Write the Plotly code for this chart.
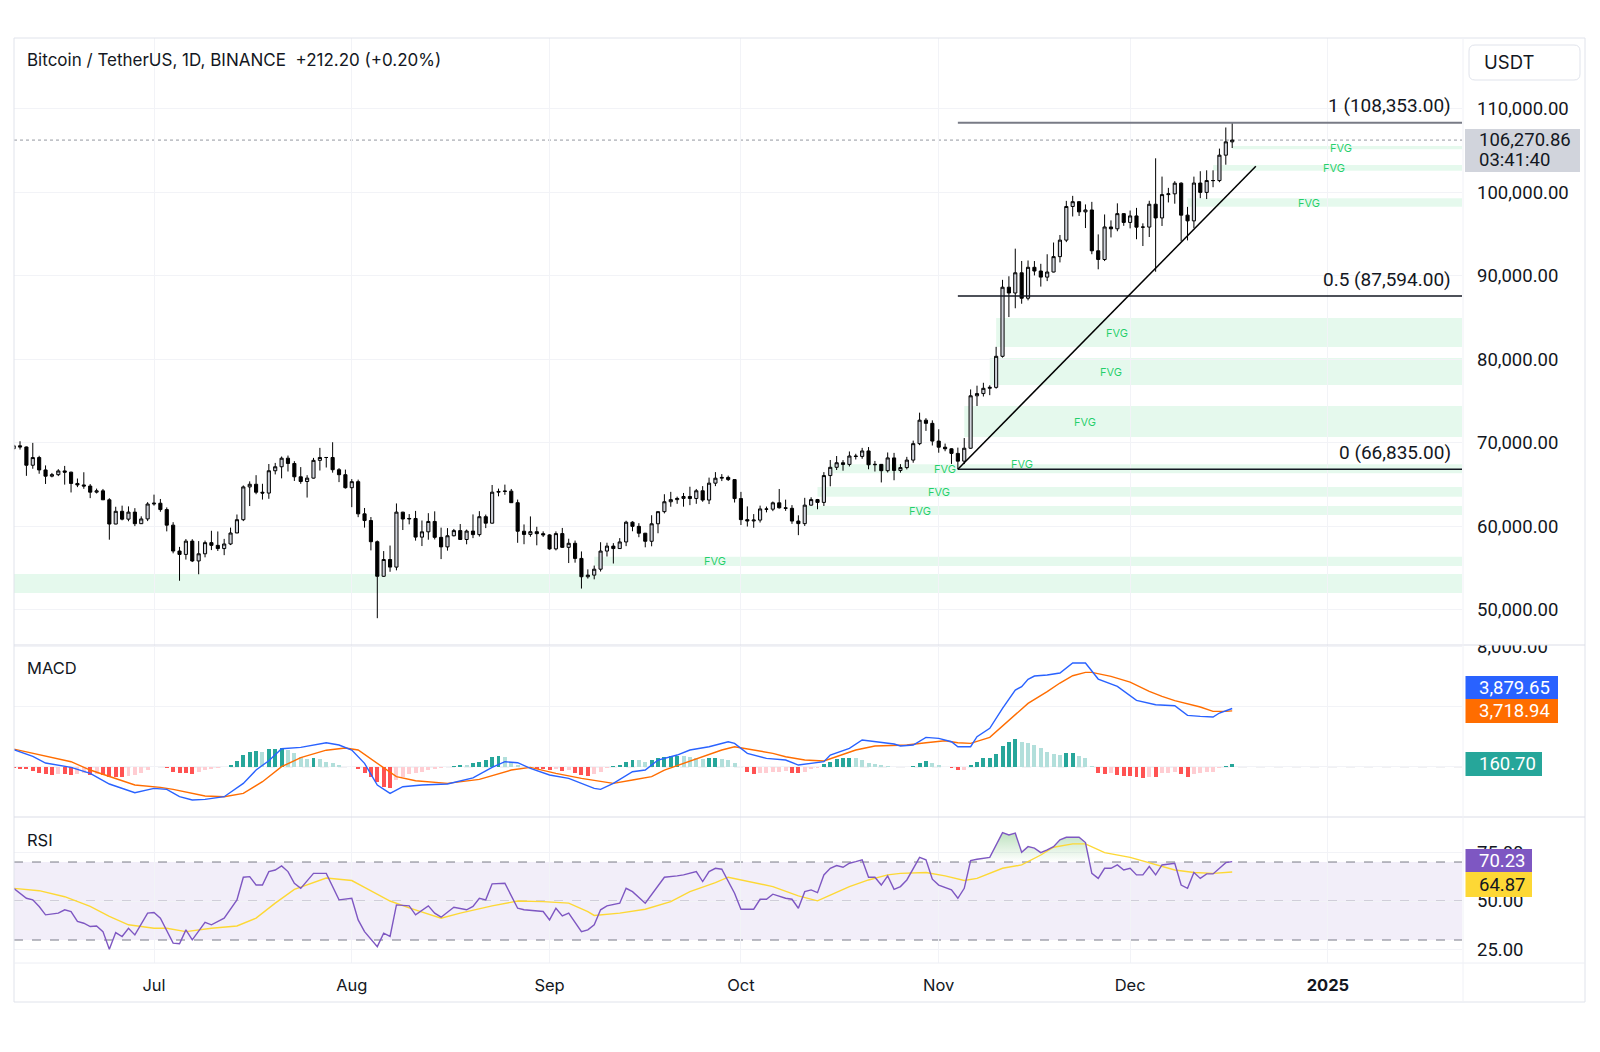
import pandas as pd
import plotly.graph_objects as go

W, H = 1600, 1052
def px(x): return x / W
def py(y): return 1 - y / H

# ---------------- DATA ----------------
dates = pd.date_range("2024-06-09", periods=192, freq="D")

open_ = [
 69310, 69648, 69508, 67321, 68243, 66757, 66011, 66191, 66639, 66491, 65140, 64960, 64828, 64096, 64252, 63180, 60277, 61804, 60864, 61706, 60320, 60887,
 62678, 62772, 62011, 60145, 57043, 56639, 58231, 55857, 56714, 58050, 57725, 57339, 57889, 59204, 60797, 64724, 65043, 64087, 63987, 66661, 67139, 68165, 67533, 65936, 65372, 65777, 67907, 68250, 68249, 66784, 66189,
 64629, 65354, 61498, 60697, 58161, 54018, 56030, 55120, 61703, 60880, 60945, 58712, 59346, 60587, 58683, 57541, 58874, 59491, 58427, 59438, 59013, 61157, 60381, 64094, 64178, 64220, 62834, 59416, 59035, 59360, 59124,
 58974, 57302, 59132, 57487, 57971, 56160, 53962, 54160, 54869, 57042, 57635, 57339, 58132, 60498, 60000, 59182, 58213, 60309, 61759, 62947, 63201, 63348, 63578, 63339, 64262, 63152, 65173, 65769, 65858, 65602,
 63327, 60805, 60649, 60752, 62086, 62058, 62819, 62224, 62160, 60636, 60326, 62540, 63206, 62870, 66083, 67074, 67620, 67421, 68428, 68379, 69031, 67377, 67426, 66668, 68198, 66698, 67041, 67938, 69907, 72720, 72339,
 70215, 69482, 69289, 68741, 67811, 69359, 75640, 75904, 76538, 76649, 80370, 88647, 87952, 90375, 87325, 91032, 90586, 89855, 90465, 92310, 94287, 98317, 98892, 97672, 97900, 93010, 91965, 95863, 95643, 97460,
 96407, 97185, 95840, 95849, 98587, 96945, 99740, 99831, 101109, 97276, 96593, 101125, 100004, 101424, 101420, 104463, 106059]

high = [
 69850, 70195, 69560, 69999, 68450, 67300, 66400, 66850, 67240, 66550, 65730, 66480, 65065, 64520, 64480, 63370, 62350, 62480, 62390, 62180, 61200, 62900,
 63800, 63280, 62270, 60500, 57540, 58480, 58460, 58236, 58296, 59470, 59390, 58500, 59850, 61420, 64900, 65390, 66130, 65100, 67470, 67600, 68366, 68480, 67810, 67100, 66130, 68200, 69400, 68300, 70079, 66980, 66800,
 65660, 65600, 62200, 61117, 58305, 57040, 57700, 62745, 61744, 61470, 61850, 60700, 61580, 61800, 59848, 59790, 59690, 60280, 59618, 61430, 61820, 61410, 64955, 64520, 65000, 64480, 63210, 60230, 61190, 59950, 59400,
 59060, 59400, 59810, 58520, 58300, 56995, 54850, 55300, 58100, 58040, 57990, 58588, 60670, 60610, 60380, 59210, 61330, 61786, 63850, 64133, 63560, 64000, 64745, 64480, 64817, 65840, 66498, 66260, 66076, 65619,
 64130, 62390, 61468, 62485, 62370, 62975, 64478, 63200, 62543, 61321, 63417, 63480, 63285, 66500, 67950, 68424, 67939, 68969, 68693, 69400, 69500, 67836, 67470, 68850, 68800, 67454, 68324, 70270, 73620, 72961, 72700,
 71632, 69914, 69361, 69433, 70577, 76400, 76849, 77199, 76900, 81500, 89530, 89956, 93265, 91790, 91850, 91779, 91449, 92594, 94002, 94902, 98989, 99588, 98767, 98564, 98871, 94973, 97361, 96650, 98693, 97499,
 97836, 98150, 96297, 99000, 104088, 101898, 100548, 101350, 101215, 98270, 101895, 102540, 102650, 102650, 105250, 107780, 108353]

low = [
 69130, 69200, 66051, 66900, 66300, 65078, 65870, 66020, 65000, 64060, 64700, 64500, 63380, 63940, 63180, 58402, 60260, 60720, 60610, 60030, 60380, 60630,
 62480, 61750, 59400, 56770, 53485, 56020, 55724, 54260, 56290, 57158, 57050, 56550, 57756, 59261, 60630, 62430, 63850, 63210, 63300, 66220, 65750, 66570, 65440, 65100, 63450, 65730, 66690, 67050, 66430, 65300, 64520,
 62300, 61100, 59850, 57122, 49000, 53950, 54560, 54730, 59560, 60240, 58290, 57640, 58400, 58430, 56078, 57090, 58800, 58420, 57850, 58590, 58780, 59790, 60340, 63600, 63780, 62800, 58030, 57860, 58760, 57730, 58730,
 57200, 57120, 57415, 55606, 55650, 52550, 53745, 53653, 54590, 56390, 55550, 57320, 57630, 59410, 58700, 57490, 57610, 59174, 61555, 62350, 62700, 62357, 62538, 62700, 62947, 62670, 64819, 65422, 65432, 62856,
 60164, 59980, 59828, 60459, 61675, 61824, 62128, 61860, 60300, 58946, 60050, 62487, 62050, 62442, 64800, 66750, 66666, 67177, 68010, 68100, 66840, 66571, 65260, 66454, 65523, 66435, 66824, 67620, 69730, 71436, 69685,
 68820, 69000, 67478, 66835, 67458, 69298, 74416, 75555, 75714, 76492, 80216, 85072, 86127, 86668, 87073, 90056, 88722, 89376, 90426, 91619, 94049, 97122, 97182, 95734, 92600, 90791, 91778, 94610, 95350, 96000,
 95693, 94395, 93578, 94660, 90500, 95981, 98800, 98650, 94150, 94256, 95734, 99311, 99206, 100626, 101227, 103322, 105321]

close = [
 69648, 69508, 67321, 68243, 66757, 66011, 66191, 66639, 66491, 65140, 64960, 64828, 64096, 64252, 63180, 60277, 61804, 60864, 61706, 60320, 60887, 62678,
 62772, 62011, 60145, 57043, 56639, 58231, 55857, 56714, 58050, 57725, 57339, 57889, 59204, 60797, 64724, 65043, 64087, 63987, 66661, 67139, 68165, 67533, 65936, 65372, 65777, 67907, 68250, 68249, 66784, 66189, 64629,
 65354, 61498, 60697, 58161, 54018, 56030, 55120, 61703, 60880, 60945, 58712, 59346, 60587, 58683, 57541, 58874, 59491, 58427, 59438, 59013, 61157, 60381, 64094, 64178, 64220, 62834, 59416, 59035, 59360, 59124, 58974,
 57302, 59132, 57487, 57971, 56160, 53962, 54160, 54869, 57042, 57635, 57339, 58132, 60498, 60000, 59182, 58213, 60309, 61759, 62947, 63201, 63348, 63578, 63339, 64262, 63152, 65173, 65769, 65858, 65602, 63327,
 60805, 60649, 60752, 62086, 62058, 62819, 62224, 62160, 60636, 60326, 62540, 63206, 62870, 66083, 67074, 67620, 67421, 68428, 68379, 69031, 67377, 67426, 66668, 68198, 66698, 67041, 67938, 69907, 72720, 72339, 70215,
 69482, 69289, 68741, 67811, 69359, 75640, 75904, 76538, 76649, 80370, 88647, 87952, 90375, 87325, 91032, 90586, 89855, 90465, 92310, 94287, 98317, 98892, 97672, 97900, 93010, 91965, 95863, 95643, 97460, 96407,
 97185, 95840, 95849, 98587, 96945, 99740, 99831, 101109, 97276, 96593, 101125, 100004, 101424, 101420, 104463, 106059, 106270.86]

# days counted from 2024-07-01
DAY0 = pd.Timestamp("2024-07-01")

macd_day = [-22,-19,-17,-13,-10,-7,-3,0,2,4,6,8,11,14,16,18,20,23,27,29,31,33,35,37,39,42,46,50,53,55,57,59,62,65,69,70,72,75,77,79,82,84,87,90,91,93,96,99,101,103,105,106,109,111,113,116,117,119,121,123,125,126,128,129,131,133,135,136,137,138,140,142,144,146,148,151,154,157,160,162,164,166,167,169]
macd_val = [1133,689,244,-44,-444,-1155,-1733,-1444,-1511,-2000,-2222,-2178,-2000,-1111,-222,400,1200,1289,1600,1444,1111,222,-1222,-1778,-1333,-1222,-1155,-750,-50,333,267,-111,-555,-778,-1444,-1511,-1111,-333,-222,444,778,1111,1333,1667,1555,889,555,444,111,222,333,778,1222,1778,1667,1511,1378,1444,1955,1889,1667,1333,1333,2000,2555,3889,5111,5333,5822,6044,6111,6244,6911,6911,5844,5355,4422,4133,4066,3422,3355,3311,3578,3879.65]

signal_day = [-22,-19,-13,-10,-7,-3,1,3,8,11,14,17,20,23,27,30,32,35,38,41,46,51,56,59,63,67,70,72,75,78,80,83,86,89,91,94,97,99,102,105,107,110,113,116,118,121,124,126,128,131,134,137,140,142,144,146,147,150,153,156,158,160,164,166,168,169]
signal_val = [1178,911,333,-222,-666,-1222,-1378,-1511,-1955,-2000,-1778,-1000,0,600,1100,1250,1111,222,-666,-933,-1111,-844,-222,-44,-444,-778,-1000,-1111,-889,-666,-222,222,666,1111,1333,1111,889,666,444,378,666,1111,1378,1444,1444,1600,1733,1600,1555,1955,3111,4222,5000,5578,6066,6289,6289,6022,5644,5022,4689,4400,3978,3689,3689,3718.94]

hist = [
 -67,-178,-178,-266,-400,-511,-555,-488,-488,-555,
 -511,-444,-555,-488,-555,-666,-666,-666,-600,-555,
 -400,-222,-44,-22,-111,-333,-444,-444,-488,-333,
 -222,-178,-67,10,111,400,777,1000,1050,1000,
 1155,1177,1221,1110,888,666,488,555,488,333,
 222,111,10,-44,-178,-444,-666,-1000,-1332,-1400,
 -888,-666,-488,-444,-333,-222,-178,-111,-20,20,
 111,111,222,289,444,622,710,666,333,111,
 -20,-111,-150,-178,-222,-178,-266,-222,-400,-555,
 -622,-488,-333,-111,20,111,333,444,430,333,
 444,555,666,710,720,700,666,555,488,555,
 560,488,444,222,-44,-333,-488,-444,-430,-333,
 -320,-310,-400,-420,-333,-178,-111,178,333,488,
 555,570,555,444,266,155,111,44,10,-44,
 10,44,266,377,222,111,-50,-111,-222,-200,
 111,333,555,560,844,1377,1620,1820,1620,1600,
 1444,1221,1000,822,800,888,900,710,555,44,
 -400,-488,-444,-555,-600,-610,-666,-777,-666,-680,
 -444,-400,-333,-488,-666,-488,-444,-333,-320,-111,
 44,160.70]

rsi_day = [-22,-20,-19,-18,-17,-15,-14,-13,-12,-11,-10,-9,-8,-7,-6,-5,-4,-3,-1,0,1,3,4,5,6,8,9,11,13,14,15,16,17,18,19,20,21,22,23,25,27,28,29,31,32,33,35,36,37,38,40,41,43,44,45,47,49,50,51,52,53,55,57,58,61,62,63,64,65,67,68,69,70,71,73,74,75,77,79,80,82,83,85,86,87,88,89,91,92,94,95,96,97,99,100,101,102,103,104,105,106,107,108,109,110,111,112,113,114,115,116,117,118,120,121,122,123,125,126,127,128,129,131,132,133,134,135,136,137,138,139,140,141,142,143,145,146,147,148,149,150,151,152,153,154,155,156,157,158,160,161,162,163,164,165,166,168,169]
rsi_val = [56.5,51.4,50.6,47.2,42.9,43.8,45.5,44.6,39.5,38.6,36.9,37.2,34.3,25.2,33.8,31.8,36.0,32.6,43.8,44.1,41.2,28.4,28.1,35.2,30.1,39.0,37.8,41.2,50.6,62.2,62.5,58.2,58.2,65.1,65.9,68.0,65.1,59.1,56.5,64.2,64.2,57.4,50.6,51.4,40.3,34.3,26.6,33.5,31.8,48.0,47.5,42.9,47.5,43.8,41.7,46.8,45.5,47.2,51.4,50.6,58.8,59.1,46.3,45.5,44.6,40.3,46.3,42.4,43.8,34.3,35.2,37.8,45.5,47.5,48.9,56.5,54.8,48.9,58.2,62.2,62.9,63.4,65.1,60.0,65.1,66.8,66.3,54.0,45.8,45.8,50.9,50.9,53.5,51.4,50.9,46.3,54.8,55.7,54.3,63.4,66.8,68.2,67.3,69.4,70.2,71.1,62.2,62.2,58.2,62.9,56.0,57.4,60.8,72.4,71.1,61.2,58.2,55.7,51.4,56.5,70.7,71.4,72.4,78.8,85.1,83.9,84.8,75.0,77.9,77.1,74.8,76.2,77.9,81.4,82.7,82.7,80.0,64.2,61.6,66.8,66.8,68.5,65.9,66.8,63.4,63.4,67.7,63.4,68.5,69.4,58.2,56.5,64.6,61.6,63.9,63.9,69.7,70.23]

rsima_day = [-22,-18,-14,-10,-7,-4,0,2,5,9,13,16,19,22,27,31,33,37,40,45,48,53,57,61,65,68,69,73,77,81,84,88,90,93,97,101,104,106,109,112,115,117,121,124,127,129,133,136,139,141,144,146,149,153,156,160,163,166,169]
rsima_val = [56.5,55.3,52.2,47.2,42.1,37.8,36.0,36.0,34.3,36.0,37.2,41.2,48.9,56.0,61.8,60.5,57.0,50.0,46.5,41.2,43.8,47.5,50.0,49.7,48.9,44.6,42.6,43.8,45.8,49.7,54.8,59.4,62.2,60.0,57.4,52.6,50.1,53.0,57.4,60.8,63.4,64.2,64.6,62.9,60.5,61.6,66.8,68.5,73.6,77.6,79.3,79.3,74.8,72.4,69.7,65.9,64.6,64.2,64.87]

# Fair value gaps
fvg_start = ["2024-06-01", "2024-09-08", "2024-10-11", "2024-10-13", "2024-10-15", "2024-11-05", "2024-11-09", "2024-11-10", "2024-12-10", "2024-12-14", "2024-12-17"]
fvg_low   = [52018, 55251, 61360, 63552, 66350, 70703, 76933, 81484, 98291, 102603, 105167]
fvg_high  = [54294, 56365, 62438, 64714, 67450, 74416, 80167, 84958, 99297, 103286, 105562]
fvg_label = [None, "2024-09-27", "2024-10-29", "2024-11-01", "2024-11-02", "2024-11-24", "2024-11-28", "2024-11-29", "2024-12-29", "2025-01-02", "2025-01-03"]
fvg_extra_label_dates = ["2024-11-14"]
fvg_extra_label_prices = [67469]

# Fibonacci retracement and trend line
fib_start = "2024-11-04"
fib_levels = [1, 0.5, 0]
fib_prices = [108353.00, 87594.00, 66835.00]
trend_dates = ["2024-11-04", "2024-12-20 17:00"]
trend_prices = [66835, 103130]

month_ticks = ["2024-07-01", "2024-08-01", "2024-09-01", "2024-10-01", "2024-11-01", "2024-12-01", "2025-01-01"]
month_text = ["Jul", "Aug", "Sep", "Oct", "Nov", "Dec", "<b>2025</b>"]
price_ticks = [50000, 60000, 70000, 80000, 90000, 100000, 110000]
macd_ticks = [0, 4000, 8000]
macd_tick_text = ["", "", "8,000.00"]
rsi_ticks = [25, 50, 75]

title_text = "Bitcoin / TetherUS, 1D, BINANCE  +212.20 (+0.20%)"
countdown = "03:41:40"

# ---------------- STYLE ----------------
FONT = "Inter"
NUMFONT = "Roboto"
NUMSIZE = 18.5
TXT = "#131722"
GRID = "#f2f3f7"
BORDER = "#e0e3eb"

def to_dates(days):
    return [DAY0 + pd.Timedelta(days=d) for d in days]

fig = go.Figure()

fig.add_trace(go.Candlestick(
    x=dates, open=open_, high=high, low=low, close=close,
    xaxis="x", yaxis="y",
    increasing=dict(fillcolor="#d1d4dc", line=dict(color="#000000", width=1)),
    decreasing=dict(fillcolor="#000000", line=dict(color="#000000", width=1)),
    whiskerwidth=0, showlegend=False, hoverinfo="skip"))

hist_colors = []
prev = None
for h in hist:
    if h >= 0:
        c = "#26a69a" if (prev is None or h > prev) else "#b2dfdb"
    else:
        c = "#ffcdd2" if (prev is not None and h > prev) else "#ff5252"
    hist_colors.append(c)
    prev = h

fig.add_trace(go.Bar(x=dates, y=hist, yaxis="y2", marker=dict(color=hist_colors, line=dict(width=0)),
                     width=0.62 * 86400000, showlegend=False, hoverinfo="skip"))
fig.add_trace(go.Scatter(x=to_dates(signal_day), y=signal_val, yaxis="y2", mode="lines",
                         line=dict(color="#ff6d00", width=1.4), showlegend=False, hoverinfo="skip"))
fig.add_trace(go.Scatter(x=to_dates(macd_day), y=macd_val, yaxis="y2", mode="lines",
                         line=dict(color="#2962ff", width=1.4), showlegend=False, hoverinfo="skip"))

rsi_x = to_dates(rsi_day)
fig.add_trace(go.Scatter(x=rsi_x, y=[70] * len(rsi_val), yaxis="y3", mode="lines",
                         line=dict(width=0, color="rgba(0,0,0,0)"), showlegend=False, hoverinfo="skip"))
fig.add_trace(go.Scatter(x=rsi_x, y=[max(v, 70) for v in rsi_val], yaxis="y3", mode="lines",
                         line=dict(width=0, color="rgba(0,0,0,0)"), fill="tonexty",
                         fillgradient=dict(type="vertical", start=70, stop=86,
                                           colorscale=[[0, "rgba(76,175,80,0.0)"], [1, "rgba(76,175,80,0.38)"]]),
                         showlegend=False, hoverinfo="skip"))
fig.add_trace(go.Scatter(x=to_dates(rsima_day), y=rsima_val, yaxis="y3", mode="lines",
                         line=dict(color="#fdd835", width=1.4), showlegend=False, hoverinfo="skip"))
fig.add_trace(go.Scatter(x=rsi_x, y=rsi_val, yaxis="y3", mode="lines",
                         line=dict(color="#7e57c2", width=1.4), showlegend=False, hoverinfo="skip"))

shapes = []
annotations = []
FAR = "2025-03-01"

for s, lo, hi_, lab in zip(fvg_start, fvg_low, fvg_high, fvg_label):
    shapes.append(dict(type="rect", xref="x", yref="y", x0=s, x1=FAR, y0=lo, y1=hi_,
                       fillcolor="rgba(0,200,83,0.10)", line=dict(width=0), layer="below"))
    if lab:
        annotations.append(dict(xref="x", yref="y", x=lab, y=(lo + hi_) / 2, text="FVG", showarrow=False,
                                font=dict(family=FONT, size=11, color="rgba(0,200,83,0.85)")))
for d, p in zip(fvg_extra_label_dates, fvg_extra_label_prices):
    annotations.append(dict(xref="x", yref="y", x=d, y=p, text="FVG", showarrow=False,
                            font=dict(family=FONT, size=11, color="rgba(0,200,83,0.85)")))

# current price dotted line
shapes.append(dict(type="line", xref="x domain", yref="y", x0=0, x1=1, y0=close[-1], y1=close[-1],
                   line=dict(color="#9598a1", width=1, dash="dot"), layer="below"))

# RSI band & levels
shapes.append(dict(type="rect", xref="x domain", yref="y3", x0=0, x1=1, y0=30, y1=70,
                   fillcolor="rgba(126,87,194,0.10)", line=dict(width=0), layer="below"))
for lvl, col in [(70, "#787b86"), (50, "rgba(120,123,134,0.55)"), (30, "#787b86")]:
    shapes.append(dict(type="line", xref="x domain", yref="y3", x0=0, x1=1, y0=lvl, y1=lvl,
                       line=dict(color=col, width=1, dash="dash"), layer="below"))
# MACD zero line
shapes.append(dict(type="line", xref="x domain", yref="y2", x0=0, x1=1, y0=0, y1=0,
                   line=dict(color="#b2b5be", width=1, dash="dash"), layer="below"))

# Fib lines
fib_cols = ["#787b86", "#131722", "#131722"]
fib_w = [2, 1.5, 1.5]
for lvl, p, c, w in zip(fib_levels, fib_prices, fib_cols, fib_w):
    shapes.append(dict(type="line", xref="x", yref="y", x0=fib_start, x1=FAR, y0=p, y1=p,
                       line=dict(color=c, width=w), layer="above"))
    annotations.append(dict(xref="x domain", yref="y", x=(1453 - 14) / (1462 - 14), y=p, yshift=17,
                            xanchor="right", yanchor="middle", showarrow=False,
                            text=f"{lvl:g} ({p:,.2f})", font=dict(family=NUMFONT, size=19, color=TXT)))
# trend line
shapes.append(dict(type="line", xref="x", yref="y", x0=trend_dates[0], x1=trend_dates[1],
                   y0=trend_prices[0], y1=trend_prices[1], line=dict(color="#000000", width=1.5), layer="above"))

# frame & separators
shapes.append(dict(type="rect", xref="paper", yref="paper", x0=px(14), x1=px(1585), y0=py(1002), y1=py(38),
                   line=dict(color=BORDER, width=1), fillcolor="rgba(0,0,0,0)", layer="above"))
# mask top half of 8,000 label
shapes.append(dict(type="rect", xref="paper", yref="paper", x0=px(1464), x1=px(1584), y0=py(645), y1=py(626),
                   line=dict(width=0), fillcolor="white", layer="above"))
for yy in (645, 817):
    shapes.append(dict(type="line", xref="paper", yref="paper", x0=px(14), x1=px(1585), y0=py(yy), y1=py(yy),
                       line=dict(color="#dcdde8", width=1.2), layer="above"))
shapes.append(dict(type="line", xref="paper", yref="paper", x0=px(14), x1=px(1585), y0=py(963), y1=py(963),
                   line=dict(color="#eceef4", width=1), layer="above"))
shapes.append(dict(type="line", xref="paper", yref="paper", x0=px(1463), x1=px(1463), y0=py(1002), y1=py(38),
                   line=dict(color="#f0f1f6", width=1), layer="above"))

# USDT box (rounded)
def rounded(x0, y0, x1, y1, r):
    X0, X1 = px(x0), px(x1)
    Y0, Y1 = py(y0), py(y1)
    rx, ry = r / W, r / H
    return (f"M {X0+rx},{Y0} L {X1-rx},{Y0} Q {X1},{Y0} {X1},{Y0-ry} L {X1},{Y1+ry} Q {X1},{Y1} {X1-rx},{Y1} "
            f"L {X0+rx},{Y1} Q {X0},{Y1} {X0},{Y1+ry} L {X0},{Y0-ry} Q {X0},{Y0} {X0+rx},{Y0} Z")
shapes.append(dict(type="path", xref="paper", yref="paper", path=rounded(1469, 45, 1580, 80, 6),
                   line=dict(color=BORDER, width=1), fillcolor="white", layer="above"))
annotations.append(dict(xref="paper", yref="paper", x=px(1482), y=py(62), xanchor="left", yanchor="middle",
                        text="USDT", showarrow=False, font=dict(family=FONT, size=18.5, color=TXT)))

# value label boxes
def label_box(x0, y0, x1, y1, fill, text, tcolor):
    shapes.append(dict(type="rect", xref="paper", yref="paper", x0=px(x0), x1=px(x1), y0=py(y1), y1=py(y0),
                       fillcolor=fill, line=dict(width=0), layer="above"))
    annotations.append(dict(xref="paper", yref="paper", x=px(1477), y=py((y0 + y1) / 2), xanchor="left",
                            yanchor="middle", text=text, showarrow=False, align="left",
                            font=dict(family=NUMFONT, size=NUMSIZE, color=tcolor)))

shapes.append(dict(type="rect", xref="paper", yref="paper", x0=px(1465), x1=px(1580), y0=py(172), y1=py(129),
                   fillcolor="#d1d4dc", line=dict(width=0), layer="above"))
annotations.append(dict(xref="paper", yref="paper", x=px(1477), y=py(140), xanchor="left", yanchor="middle",
                        text=f"{close[-1]:,.2f}", showarrow=False, font=dict(family=NUMFONT, size=NUMSIZE, color=TXT)))
annotations.append(dict(xref="paper", yref="paper", x=px(1477), y=py(160), xanchor="left", yanchor="middle",
                        text=countdown, showarrow=False, font=dict(family=NUMFONT, size=NUMSIZE, color=TXT)))

label_box(1465.5, 676, 1558, 699, "#2962ff", f"{macd_val[-1]:,.2f}", "white")
label_box(1465.5, 699, 1558, 723, "#ff6d00", f"{signal_val[-1]:,.2f}", "white")
label_box(1465.5, 752, 1542, 776, "#26a69a", f"{hist[-1]:,.2f}", "white")
label_box(1465.5, 849, 1532, 872, "#7e57c2", f"{rsi_val[-1]:.2f}", "white")
label_box(1465.5, 872, 1532, 897, "#fdd835", f"{rsima_val[-1]:.2f}", TXT)

# titles
annotations.append(dict(xref="paper", yref="paper", x=px(25), y=py(60), xanchor="left", yanchor="middle",
                        text=title_text, showarrow=False, font=dict(family=FONT, size=17, color=TXT)))
annotations.append(dict(xref="paper", yref="paper", x=px(25), y=py(668), xanchor="left", yanchor="middle",
                        text="MACD", showarrow=False, font=dict(family=FONT, size=16.5, color=TXT)))
annotations.append(dict(xref="paper", yref="paper", x=px(25), y=py(840), xanchor="left", yanchor="middle",
                        text="RSI", showarrow=False, font=dict(family=FONT, size=16.5, color=TXT)))

yax_common = dict(side="right", anchor="x", showgrid=True, gridcolor=GRID, gridwidth=1, zeroline=False,
                  showline=False, ticks="", ticklabelstandoff=14, fixedrange=True,
                  tickfont=dict(family=NUMFONT, size=NUMSIZE, color=TXT))

fig.update_layout(
    width=W, height=H, autosize=False, margin=dict(l=0, r=0, t=0, b=0, pad=0, autoexpand=False),
    paper_bgcolor="white", plot_bgcolor="white", showlegend=False, hovermode=False,
    font=dict(family=FONT, size=16, color=TXT), bargap=0,
    xaxis=dict(domain=[px(14), px(1462)], anchor="y3", type="date",
               range=["2024-06-09 01:20", "2025-01-22 00:30"],
               tickvals=month_ticks, ticktext=month_text, showgrid=True, gridcolor=GRID, gridwidth=1,
               zeroline=False, showline=False, ticks="", ticklabelstandoff=10,
               tickfont=dict(family=FONT, size=16.5, color=TXT),
               rangeslider=dict(visible=False), fixedrange=True),
    yaxis=dict(domain=[py(645), py(38)], range=[45788, 118499], tickvals=price_ticks, tickformat=",.2f", **yax_common),
    yaxis2=dict(domain=[py(817), py(645)], range=[-3353, 8113], tickvals=macd_ticks, ticktext=macd_tick_text, **yax_common),
    yaxis3=dict(domain=[py(963), py(817)], range=[18.2, 93.1], tickvals=rsi_ticks, tickformat=".2f", **yax_common),
    shapes=shapes, annotations=annotations,
)

page_fix = ("document.documentElement.style.margin='0';document.body.style.margin='0';"
            "document.body.style.padding='0';document.body.style.overflow='hidden';"
            "var g=document.getElementById('{plot_id}');g.style.position='absolute';"
            "g.style.left='0px';g.style.top='0px';")
fig.write_html("out.html", post_script=page_fix, config={"displayModeBar": False, "staticPlot": True})
